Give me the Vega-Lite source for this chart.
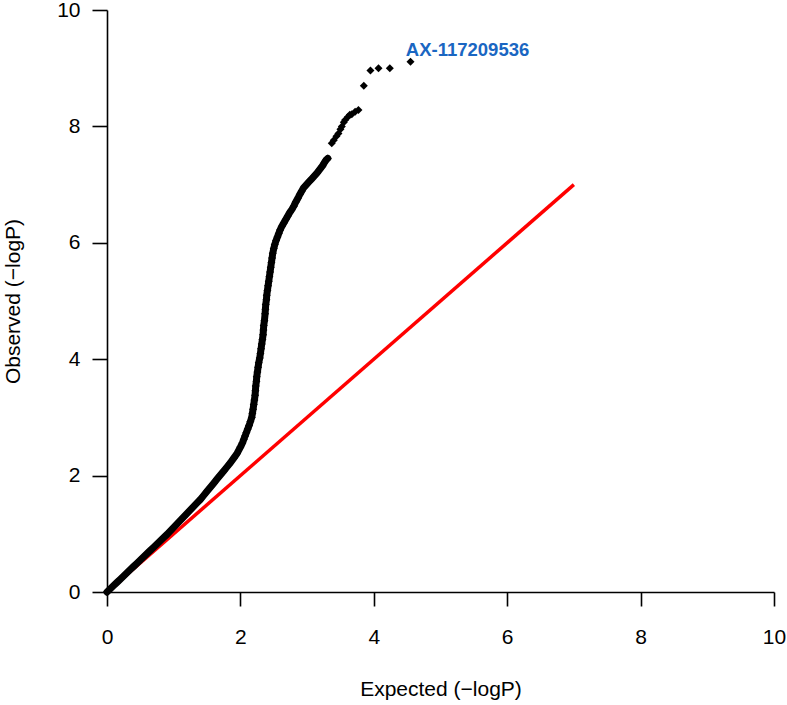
{
  "$schema": "https://vega.github.io/schema/vega-lite/v6.json",
  "width": 667,
  "height": 582,
  "autosize": {"type": "none"},
  "padding": {"left": 107, "top": 10, "right": 13, "bottom": 113},
  "background": "white",
  "config": {
    "view": {"stroke": null},
    "font": "Liberation Sans",
    "axis": {
      "grid": false,
      "domainColor": "black",
      "domainWidth": 1.6,
      "tickColor": "black",
      "tickWidth": 1.6,
      "labelFont": "Liberation Sans",
      "labelFontSize": 21,
      "labelColor": "black",
      "labelFlush": false,
      "labelOverlap": false,
      "format": "d",
      "titleFont": "Liberation Sans",
      "titleFontSize": 21,
      "titleFontWeight": "normal",
      "titleColor": "black"
    }
  },
  "datasets": {
    "ref": [{"expected": 0, "observed": 0}, {"expected": 7, "observed": 7}],
    "lab": [{"expected": 4.48, "observed": 9.31, "label": "AX-117209536"}],
    "pts": [
      {"expected": 0, "observed": 0}, {"expected": 0.05, "observed": 0.055}, {"expected": 0.1, "observed": 0.11}, {"expected": 0.15, "observed": 0.165},
      {"expected": 0.2, "observed": 0.22}, {"expected": 0.25, "observed": 0.275}, {"expected": 0.3, "observed": 0.33}, {"expected": 0.35, "observed": 0.385},
      {"expected": 0.4, "observed": 0.44}, {"expected": 0.45, "observed": 0.495}, {"expected": 0.5, "observed": 0.55}, {"expected": 0.55, "observed": 0.605},
      {"expected": 0.6, "observed": 0.66}, {"expected": 0.65, "observed": 0.715}, {"expected": 0.7, "observed": 0.77}, {"expected": 0.75, "observed": 0.825},
      {"expected": 0.8, "observed": 0.88}, {"expected": 0.85, "observed": 0.935}, {"expected": 0.9, "observed": 0.99}, {"expected": 0.95, "observed": 1.05},
      {"expected": 1.0, "observed": 1.11}, {"expected": 1.05, "observed": 1.17}, {"expected": 1.1, "observed": 1.23}, {"expected": 1.15, "observed": 1.29},
      {"expected": 1.2, "observed": 1.35}, {"expected": 1.25, "observed": 1.41}, {"expected": 1.3, "observed": 1.47}, {"expected": 1.35, "observed": 1.53},
      {"expected": 1.4, "observed": 1.59}, {"expected": 1.45, "observed": 1.66}, {"expected": 1.5, "observed": 1.73}, {"expected": 1.55, "observed": 1.8},
      {"expected": 1.6, "observed": 1.87}, {"expected": 1.65, "observed": 1.94}, {"expected": 1.7, "observed": 2.01}, {"expected": 1.75, "observed": 2.08},
      {"expected": 1.8, "observed": 2.15}, {"expected": 1.85, "observed": 2.22}, {"expected": 1.9, "observed": 2.3}, {"expected": 1.95, "observed": 2.38},
      {"expected": 2.0, "observed": 2.49}, {"expected": 2.03, "observed": 2.56}, {"expected": 2.05, "observed": 2.62}, {"expected": 2.07, "observed": 2.68},
      {"expected": 2.09, "observed": 2.74}, {"expected": 2.11, "observed": 2.8}, {"expected": 2.13, "observed": 2.86}, {"expected": 2.15, "observed": 2.93},
      {"expected": 2.17, "observed": 3.0}, {"expected": 2.18, "observed": 3.07}, {"expected": 2.19, "observed": 3.14}, {"expected": 2.2, "observed": 3.22},
      {"expected": 2.21, "observed": 3.3}, {"expected": 2.22, "observed": 3.38}, {"expected": 2.225, "observed": 3.46}, {"expected": 2.23, "observed": 3.54},
      {"expected": 2.24, "observed": 3.62}, {"expected": 2.245, "observed": 3.7}, {"expected": 2.255, "observed": 3.78}, {"expected": 2.265, "observed": 3.86},
      {"expected": 2.275, "observed": 3.94}, {"expected": 2.29, "observed": 4.02}, {"expected": 2.3, "observed": 4.1}, {"expected": 2.31, "observed": 4.18},
      {"expected": 2.32, "observed": 4.26}, {"expected": 2.33, "observed": 4.34}, {"expected": 2.34, "observed": 4.42}, {"expected": 2.345, "observed": 4.5},
      {"expected": 2.35, "observed": 4.58}, {"expected": 2.36, "observed": 4.66}, {"expected": 2.37, "observed": 4.78}, {"expected": 2.375, "observed": 4.86},
      {"expected": 2.38, "observed": 4.94}, {"expected": 2.39, "observed": 5.02}, {"expected": 2.395, "observed": 5.1}, {"expected": 2.405, "observed": 5.18},
      {"expected": 2.415, "observed": 5.26}, {"expected": 2.425, "observed": 5.34}, {"expected": 2.435, "observed": 5.42}, {"expected": 2.445, "observed": 5.5},
      {"expected": 2.455, "observed": 5.58}, {"expected": 2.465, "observed": 5.66}, {"expected": 2.475, "observed": 5.74}, {"expected": 2.485, "observed": 5.82},
      {"expected": 2.5, "observed": 5.9}, {"expected": 2.515, "observed": 5.97}, {"expected": 2.535, "observed": 6.04}, {"expected": 2.555, "observed": 6.1},
      {"expected": 2.575, "observed": 6.16}, {"expected": 2.595, "observed": 6.22}, {"expected": 2.62, "observed": 6.28}, {"expected": 2.65, "observed": 6.34},
      {"expected": 2.68, "observed": 6.4}, {"expected": 2.71, "observed": 6.46}, {"expected": 2.74, "observed": 6.52}, {"expected": 2.77, "observed": 6.57},
      {"expected": 2.8, "observed": 6.63}, {"expected": 2.83, "observed": 6.7}, {"expected": 2.86, "observed": 6.76}, {"expected": 2.89, "observed": 6.83},
      {"expected": 2.92, "observed": 6.89}, {"expected": 2.95, "observed": 6.95}, {"expected": 2.99, "observed": 7.0}, {"expected": 3.03, "observed": 7.05},
      {"expected": 3.07, "observed": 7.1}, {"expected": 3.11, "observed": 7.15}, {"expected": 3.15, "observed": 7.2}, {"expected": 3.19, "observed": 7.26},
      {"expected": 3.23, "observed": 7.32}, {"expected": 3.26, "observed": 7.38}, {"expected": 3.29, "observed": 7.43}, {"expected": 3.31, "observed": 7.45},
      {"expected": 3.37, "observed": 7.71}, {"expected": 3.4, "observed": 7.76}, {"expected": 3.44, "observed": 7.83}, {"expected": 3.47, "observed": 7.88},
      {"expected": 3.5, "observed": 7.95}, {"expected": 3.52, "observed": 8.0}, {"expected": 3.55, "observed": 8.07}, {"expected": 3.57, "observed": 8.11},
      {"expected": 3.61, "observed": 8.16}, {"expected": 3.64, "observed": 8.2}, {"expected": 3.67, "observed": 8.21}, {"expected": 3.72, "observed": 8.25},
      {"expected": 3.77, "observed": 8.28}, {"expected": 3.85, "observed": 8.7}, {"expected": 3.95, "observed": 8.96}, {"expected": 4.07, "observed": 9.0},
      {"expected": 4.24, "observed": 9.0}, {"expected": 4.55, "observed": 9.11}
    ]
  },
  "layer": [
    {
      "data": {"name": "ref"},
      "mark": {"type": "line", "color": "#FF0000", "strokeWidth": 3.5},
      "encoding": {
        "x": {
          "field": "expected", "type": "quantitative",
          "scale": {"domain": [0, 10], "nice": false, "zero": false},
          "axis": {
            "title": "Expected (−logP)",
            "values": [0, 2, 4, 6, 8, 10],
            "tickSize": 14,
            "labelPadding": 20,
            "titleY": 97,
            "titleBaseline": "middle"
          }
        },
        "y": {
          "field": "observed", "type": "quantitative",
          "scale": {"domain": [0, 10], "nice": false, "zero": false},
          "axis": {
            "title": "Observed (−logP)",
            "values": [0, 2, 4, 6, 8, 10],
            "tickSize": 15,
            "labelPadding": 12,
            "labelAngle": 0,
            "titleAngle": -90,
            "titleX": -94,
            "titleY": 291,
            "titleBaseline": "middle"
          }
        }
      }
    },
    {
      "data": {"name": "pts"},
      "transform": [{"filter": "datum.expected <= 3.31"}],
      "mark": {"type": "line", "color": "black", "strokeWidth": 7, "strokeCap": "round", "strokeJoin": "round"},
      "encoding": {
        "x": {"field": "expected", "type": "quantitative"},
        "y": {"field": "observed", "type": "quantitative"},
        "order": {"field": "observed", "type": "quantitative"}
      }
    },
    {
      "data": {"name": "pts"},
      "mark": {"type": "point", "shape": "diamond", "filled": true, "color": "black", "opacity": 1, "size": 64},
      "encoding": {
        "x": {"field": "expected", "type": "quantitative"},
        "y": {"field": "observed", "type": "quantitative"}
      }
    },
    {
      "data": {"name": "lab"},
      "mark": {"type": "text", "align": "left", "baseline": "middle", "font": "Liberation Sans", "fontWeight": "bold", "fontSize": 18.5, "color": "#1A66C2"},
      "encoding": {
        "x": {"field": "expected", "type": "quantitative"},
        "y": {"field": "observed", "type": "quantitative"},
        "text": {"field": "label"}
      }
    }
  ]
}
